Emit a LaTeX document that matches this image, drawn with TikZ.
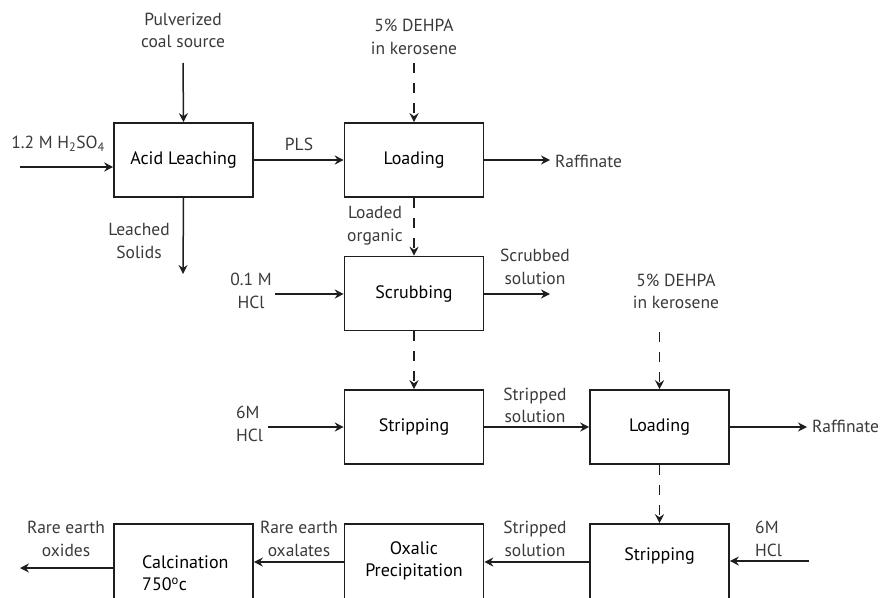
\documentclass[tikz,border=0pt]{standalone}
\usepackage{fontspec}
\setmainfont{PT Sans}
\usetikzlibrary{arrows.meta}
\definecolor{lab}{HTML}{3A3A3A}
\definecolor{ink}{HTML}{1E1E1E}
\begin{document}
\begin{tikzpicture}[x=1pt,y=-1pt,
  box/.style={draw=ink, line width=1.6pt, minimum width=139pt, minimum height=74pt, inner sep=0pt, text=black, font=\fontsize{18}{22}\selectfont, align=center},
  lowbox/.style={box, minimum height=84pt},
  lbl/.style={text=lab, font=\fontsize{17.5}{22.5}\selectfont, align=center, inner sep=0pt},
  flow/.style={draw=ink, line width=1.5pt, -{Stealth[length=9pt,width=9pt,inset=3pt]}},
  oflow/.style={flow, dash pattern=on 10pt off 10pt}]
\useasboundingbox (0,0) rectangle (882,597);
% boxes
\node[box] (leach) at (183.5,160) {Acid Leaching};
\node[box] (load1) at (414,160) {Loading};
\node[box] (scrub) at (414,293.5) {Scrubbing};
\node[box] (strip1) at (414,427) {Stripping};
\node[box] (load2) at (659.5,427) {Loading};
\node[lowbox, text height=0pt, text depth=0pt] (strip2) at (659.5,566) {};
\node[text=black, font=\fontsize{18}{22}\selectfont, inner sep=0pt] (strip2txt) at (659.5,556) {Stripping};
\node[lowbox, text height=0pt, text depth=0pt] (oxal) at (414,566) {};
\node[text=black, font=\fontsize{18}{22}\selectfont, align=center, inner sep=0pt] (oxaltxt) at (414,561) {Oxalic\\Precipitation};
\node[lowbox] (calc) at (183.5,566) {};
\node[text=black, font=\fontsize{18}{22}\selectfont, align=left, anchor=west, inner sep=0pt] (calctxt) at (142,573) {Calcination\\750\textsuperscript{o}c};
% free ends
\coordinate (h2so4) at (20,167);
\coordinate (coal) at (183,63);
\coordinate (deh1) at (414,63);
\coordinate (raf1) at (550,160);
\coordinate (solids) at (183,274);
\coordinate (hcl1) at (275,294);
\coordinate (scrout) at (550,294);
\coordinate (hcl2) at (268,427);
\coordinate (deh2) at (659.5,332);
\coordinate (raf2) at (807,427);
\coordinate (hcl3) at (809,561);
\coordinate (row3) at (0,562);
\coordinate (oxides) at (20,568);
% labels
\node[lbl] (l1) at (58,144) {1.2 M H\textsubscript{2}SO\textsubscript{4}};
\node[lbl] (l2) at (183,30.5) {Pulverized\\coal source};
\node[lbl] (l3) at (299,144) {PLS};
\node[lbl] (l4) at (414,37) {5\% DEHPA\\in kerosene};
\node[lbl, anchor=west] (l5) at (555,161) {Raffinate};
\node[lbl] (l6) at (375,225.5) {Loaded\\organic};
\node[lbl] (l7) at (139,241) {Leached\\Solids};
\node[lbl] (l8) at (251,291) {0.1 M\\HCl};
\node[lbl] (l9) at (535,267) {Scrubbed\\solution};
\node[lbl, align=left, anchor=west] (l10) at (236,424) {6M\\HCl};
\node[lbl] (l11) at (535,405.5) {Stripped\\solution};
\node[lbl] (l12) at (676,291.5) {5\% DEHPA\\in kerosene};
\node[lbl, anchor=west] (l13) at (812,426) {Raffinate};
\node[lbl, align=left, anchor=west] (l14) at (755,539) {6M\\HCl};
\node[lbl] (l15) at (535,539) {Stripped\\solution};
\node[lbl] (l16) at (299,539) {Rare earth\\oxalates};
\node[lbl] (l17) at (66,539) {Rare earth\\oxides};
% connectors
\draw[flow] (h2so4) -- (h2so4 -| leach.west);
\draw[flow] (coal) -- (leach.north);
\draw[flow] (leach.east) -- (load1.west);
\draw[oflow] (deh1) -- (load1.north);
\draw[flow] (load1.east) -- (raf1);
\draw[flow] (leach.south) -- (solids);
\draw[oflow] (load1.south) -- (scrub.north);
\draw[flow] (hcl1) -- (hcl1 -| scrub.west);
\draw[flow] (scrub.east |- scrout) -- (scrout);
\draw[oflow] (scrub.south) -- (strip1.north);
\draw[flow] (hcl2) -- (strip1.west);
\draw[flow] (strip1.east) -- (load2.west);
\draw[oflow] (deh2) -- (load2.north);
\draw[flow] (load2.east) -- (raf2);
\draw[oflow] (load2.south) -- (strip2.north);
\draw[flow] (hcl3) -- (hcl3 -| strip2.east);
\draw[flow] (strip2.west |- row3) -- (oxal.east |- row3);
\draw[flow] (oxal.west |- row3) -- (calc.east |- row3);
\draw[flow] (calc.west |- oxides) -- (oxides);
\end{tikzpicture}
\end{document}
